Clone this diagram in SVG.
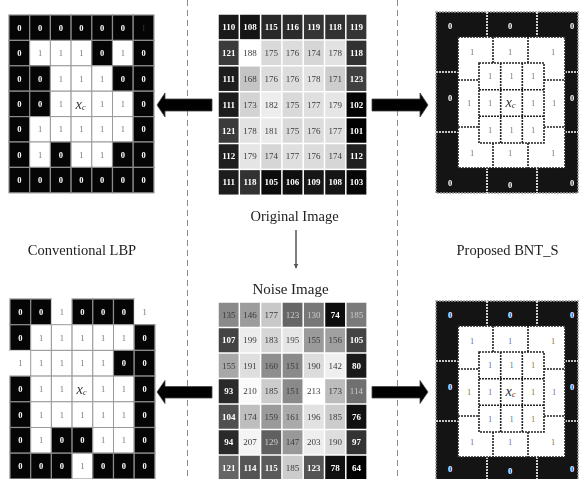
<svg xmlns="http://www.w3.org/2000/svg" width="581" height="479" viewBox="0 0 581 479">
<style>
text{font-family:"Liberation Serif","Times New Roman",serif;text-anchor:middle;dominant-baseline:central}
.lbl{font-size:14.5px;fill:#222;dominant-baseline:alphabetic}
.b{fill:#050505;stroke:#8c8c8c;stroke-width:1.2}
.w{fill:#fff;stroke:#9a9a9a;stroke-width:1}
.z{font-size:8.5px;fill:#fff;font-weight:bold}
.o{font-size:8.5px;fill:#777}
.d{font-size:8.5px;fill:#555}
.n{font-size:9px;fill:#3a3a3a}
.nl{font-size:9px;fill:#fff;font-weight:bold}
.xi{font-style:italic;font-size:14.5px;fill:#333}
.xs{font-style:italic;font-size:8px;fill:#333}
.sep{stroke:#8a8a8a;stroke-width:1;stroke-dasharray:6 4;fill:none}
.wd{stroke:#fff;stroke-width:1.6;stroke-dasharray:2 1;fill:none}
.kd{stroke:#222;stroke-width:1.6;stroke-dasharray:2 1;fill:none}
.arr{fill:#000;stroke:#444;stroke-width:0.8}
</style>
<defs>
<marker id="ah" viewBox="0 0 10 10" refX="9" refY="5" markerWidth="5" markerHeight="6" orient="auto" markerUnits="userSpaceOnUse">
<path d="M0,0 L10,5 L0,10 z" fill="#555"/>
</marker>
</defs>
<g style="opacity:0.999">
<g id="separators">
<line class="sep" x1="187.5" y1="0" x2="187.5" y2="479"/>
<line class="sep" x1="397.5" y1="0" x2="397.5" y2="479"/>
</g>

<!-- Top-left conventional LBP -->
<g id="lbp-top">
<g>
<rect class="b" x="9" y="15" width="20.7" height="25.4"/><rect class="b" x="29.7" y="15" width="20.7" height="25.4"/><rect class="b" x="50.4" y="15" width="20.7" height="25.4"/><rect class="b" x="71.1" y="15" width="20.7" height="25.4"/><rect class="b" x="91.8" y="15" width="20.7" height="25.4"/><rect class="b" x="112.5" y="15" width="20.7" height="25.4"/><rect class="b" x="133.2" y="15" width="20.7" height="25.4"/>
<rect class="b" x="9" y="40.4" width="20.7" height="25.4"/><rect class="w" x="29.7" y="40.4" width="20.7" height="25.4"/><rect class="w" x="50.4" y="40.4" width="20.7" height="25.4"/><rect class="w" x="71.1" y="40.4" width="20.7" height="25.4"/><rect class="b" x="91.8" y="40.4" width="20.7" height="25.4"/><rect class="w" x="112.5" y="40.4" width="20.7" height="25.4"/><rect class="b" x="133.2" y="40.4" width="20.7" height="25.4"/>
<rect class="b" x="9" y="65.8" width="20.7" height="25.4"/><rect class="b" x="29.7" y="65.8" width="20.7" height="25.4"/><rect class="w" x="50.4" y="65.8" width="20.7" height="25.4"/><rect class="w" x="71.1" y="65.8" width="20.7" height="25.4"/><rect class="w" x="91.8" y="65.8" width="20.7" height="25.4"/><rect class="b" x="112.5" y="65.8" width="20.7" height="25.4"/><rect class="b" x="133.2" y="65.8" width="20.7" height="25.4"/>
<rect class="b" x="9" y="91.2" width="20.7" height="25.4"/><rect class="b" x="29.7" y="91.2" width="20.7" height="25.4"/><rect class="w" x="50.4" y="91.2" width="20.7" height="25.4"/><rect class="w" x="71.1" y="91.2" width="20.7" height="25.4"/><rect class="w" x="91.8" y="91.2" width="20.7" height="25.4"/><rect class="w" x="112.5" y="91.2" width="20.7" height="25.4"/><rect class="b" x="133.2" y="91.2" width="20.7" height="25.4"/>
<rect class="b" x="9" y="116.6" width="20.7" height="25.4"/><rect class="w" x="29.7" y="116.6" width="20.7" height="25.4"/><rect class="w" x="50.4" y="116.6" width="20.7" height="25.4"/><rect class="w" x="71.1" y="116.6" width="20.7" height="25.4"/><rect class="w" x="91.8" y="116.6" width="20.7" height="25.4"/><rect class="w" x="112.5" y="116.6" width="20.7" height="25.4"/><rect class="b" x="133.2" y="116.6" width="20.7" height="25.4"/>
<rect class="b" x="9" y="142" width="20.7" height="25.4"/><rect class="w" x="29.7" y="142" width="20.7" height="25.4"/><rect class="b" x="50.4" y="142" width="20.7" height="25.4"/><rect class="w" x="71.1" y="142" width="20.7" height="25.4"/><rect class="w" x="91.8" y="142" width="20.7" height="25.4"/><rect class="b" x="112.5" y="142" width="20.7" height="25.4"/><rect class="b" x="133.2" y="142" width="20.7" height="25.4"/>
<rect class="b" x="9" y="167.4" width="20.7" height="25.4"/><rect class="b" x="29.7" y="167.4" width="20.7" height="25.4"/><rect class="b" x="50.4" y="167.4" width="20.7" height="25.4"/><rect class="b" x="71.1" y="167.4" width="20.7" height="25.4"/><rect class="b" x="91.8" y="167.4" width="20.7" height="25.4"/><rect class="b" x="112.5" y="167.4" width="20.7" height="25.4"/><rect class="b" x="133.2" y="167.4" width="20.7" height="25.4"/>
</g>
<g>
<text class="z" x="19.35" y="27.7">0</text><text class="z" x="40.05" y="27.7">0</text><text class="z" x="60.75" y="27.7">0</text><text class="z" x="81.45" y="27.7">0</text><text class="z" x="102.15" y="27.7">0</text><text class="z" x="122.85" y="27.7">0</text><text class="d" x="143.55" y="27.7" style="fill:#3a3a3a">1</text>
<text class="z" x="19.35" y="53.1">0</text><text class="o" x="40.05" y="53.1">1</text><text class="o" x="60.75" y="53.1">1</text><text class="o" x="81.45" y="53.1">1</text><text class="z" x="102.15" y="53.1">0</text><text class="o" x="122.85" y="53.1">1</text><text class="z" x="143.55" y="53.1">0</text>
<text class="z" x="19.35" y="78.5">0</text><text class="z" x="40.05" y="78.5">0</text><text class="o" x="60.75" y="78.5">1</text><text class="o" x="81.45" y="78.5">1</text><text class="o" x="102.15" y="78.5">1</text><text class="z" x="122.85" y="78.5">0</text><text class="z" x="143.55" y="78.5">0</text>
<text class="z" x="19.35" y="103.9">0</text><text class="z" x="40.05" y="103.9">0</text><text class="o" x="60.75" y="103.9">1</text><text x="80.5" y="103.9"><tspan class="xi">x</tspan><tspan class="xs" dy="3">c</tspan></text><text class="o" x="102.15" y="103.9">1</text><text class="o" x="122.85" y="103.9">1</text><text class="z" x="143.55" y="103.9">0</text>
<text class="z" x="19.35" y="129.3">0</text><text class="o" x="40.05" y="129.3">1</text><text class="o" x="60.75" y="129.3">1</text><text class="o" x="81.45" y="129.3">1</text><text class="o" x="102.15" y="129.3">1</text><text class="o" x="122.85" y="129.3">1</text><text class="z" x="143.55" y="129.3">0</text>
<text class="z" x="19.35" y="154.7">0</text><text class="o" x="40.05" y="154.7">1</text><text class="z" x="60.75" y="154.7">0</text><text class="o" x="81.45" y="154.7">1</text><text class="o" x="102.15" y="154.7">1</text><text class="z" x="122.85" y="154.7">0</text><text class="z" x="143.55" y="154.7">0</text>
<text class="z" x="19.35" y="180.1">0</text><text class="z" x="40.05" y="180.1">0</text><text class="z" x="60.75" y="180.1">0</text><text class="z" x="81.45" y="180.1">0</text><text class="z" x="102.15" y="180.1">0</text><text class="z" x="122.85" y="180.1">0</text><text class="z" x="143.55" y="180.1">0</text>
</g>
</g>

<!-- Bottom-left conventional LBP -->
<g id="lbp-bottom">
<g>
<rect class="b" x="10" y="299" width="20.7" height="25.7"/><rect class="b" x="30.7" y="299" width="20.7" height="25.7"/><rect fill="#fff" x="51.4" y="299" width="20.7" height="25.7"/><rect class="b" x="72.1" y="299" width="20.7" height="25.7"/><rect class="b" x="92.8" y="299" width="20.7" height="25.7"/><rect class="b" x="113.5" y="299" width="20.7" height="25.7"/><rect fill="#fff" x="134.2" y="299" width="20.7" height="25.7"/>
<rect class="b" x="10" y="324.7" width="20.7" height="25.7"/><rect class="w" x="30.7" y="324.7" width="20.7" height="25.7"/><rect class="w" x="51.4" y="324.7" width="20.7" height="25.7"/><rect class="w" x="72.1" y="324.7" width="20.7" height="25.7"/><rect class="w" x="92.8" y="324.7" width="20.7" height="25.7"/><rect class="w" x="113.5" y="324.7" width="20.7" height="25.7"/><rect class="b" x="134.2" y="324.7" width="20.7" height="25.7"/>
<rect fill="#fff" x="10" y="350.4" width="20.7" height="25.7"/><rect class="w" x="30.7" y="350.4" width="20.7" height="25.7"/><rect class="w" x="51.4" y="350.4" width="20.7" height="25.7"/><rect class="w" x="72.1" y="350.4" width="20.7" height="25.7"/><rect class="w" x="92.8" y="350.4" width="20.7" height="25.7"/><rect class="b" x="113.5" y="350.4" width="20.7" height="25.7"/><rect class="b" x="134.2" y="350.4" width="20.7" height="25.7"/>
<rect class="b" x="10" y="376.1" width="20.7" height="25.7"/><rect class="w" x="30.7" y="376.1" width="20.7" height="25.7"/><rect class="w" x="51.4" y="376.1" width="20.7" height="25.7"/><rect class="w" x="72.1" y="376.1" width="20.7" height="25.7"/><rect class="w" x="92.8" y="376.1" width="20.7" height="25.7"/><rect class="w" x="113.5" y="376.1" width="20.7" height="25.7"/><rect class="b" x="134.2" y="376.1" width="20.7" height="25.7"/>
<rect class="b" x="10" y="401.8" width="20.7" height="25.7"/><rect class="w" x="30.7" y="401.8" width="20.7" height="25.7"/><rect class="w" x="51.4" y="401.8" width="20.7" height="25.7"/><rect class="w" x="72.1" y="401.8" width="20.7" height="25.7"/><rect class="w" x="92.8" y="401.8" width="20.7" height="25.7"/><rect class="w" x="113.5" y="401.8" width="20.7" height="25.7"/><rect class="b" x="134.2" y="401.8" width="20.7" height="25.7"/>
<rect class="b" x="10" y="427.5" width="20.7" height="25.7"/><rect class="w" x="30.7" y="427.5" width="20.7" height="25.7"/><rect class="b" x="51.4" y="427.5" width="20.7" height="25.7"/><rect class="b" x="72.1" y="427.5" width="20.7" height="25.7"/><rect class="w" x="92.8" y="427.5" width="20.7" height="25.7"/><rect class="w" x="113.5" y="427.5" width="20.7" height="25.7"/><rect class="b" x="134.2" y="427.5" width="20.7" height="25.7"/>
<rect class="b" x="10" y="453.2" width="20.7" height="25.7"/><rect class="b" x="30.7" y="453.2" width="20.7" height="25.7"/><rect class="b" x="51.4" y="453.2" width="20.7" height="25.7"/><rect class="w" x="72.1" y="453.2" width="20.7" height="25.7"/><rect class="b" x="92.8" y="453.2" width="20.7" height="25.7"/><rect class="b" x="113.5" y="453.2" width="20.7" height="25.7"/><rect class="b" x="134.2" y="453.2" width="20.7" height="25.7"/>
</g>
<g>
<text class="z" x="20.35" y="311.85">0</text><text class="z" x="41.05" y="311.85">0</text><text class="o" x="61.75" y="311.85">1</text><text class="z" x="82.45" y="311.85">0</text><text class="z" x="103.15" y="311.85">0</text><text class="z" x="123.85" y="311.85">0</text><text class="o" x="144.55" y="311.85">1</text>
<text class="z" x="20.35" y="337.55">0</text><text class="o" x="41.05" y="337.55">1</text><text class="o" x="61.75" y="337.55">1</text><text class="o" x="82.45" y="337.55">1</text><text class="o" x="103.15" y="337.55">1</text><text class="o" x="123.85" y="337.55">1</text><text class="z" x="144.55" y="337.55">0</text>
<text class="o" x="20.35" y="363.25">1</text><text class="o" x="41.05" y="363.25">1</text><text class="o" x="61.75" y="363.25">1</text><text class="o" x="82.45" y="363.25">1</text><text class="o" x="103.15" y="363.25">1</text><text class="z" x="123.85" y="363.25">0</text><text class="z" x="144.55" y="363.25">0</text>
<text class="z" x="20.35" y="388.95">0</text><text class="o" x="41.05" y="388.95">1</text><text class="o" x="61.75" y="388.95">1</text><text x="81.5" y="388.95"><tspan class="xi">x</tspan><tspan class="xs" dy="3">c</tspan></text><text class="o" x="103.15" y="388.95">1</text><text class="o" x="123.85" y="388.95">1</text><text class="z" x="144.55" y="388.95">0</text>
<text class="z" x="20.35" y="414.65">0</text><text class="o" x="41.05" y="414.65">1</text><text class="o" x="61.75" y="414.65">1</text><text class="o" x="82.45" y="414.65">1</text><text class="o" x="103.15" y="414.65">1</text><text class="o" x="123.85" y="414.65">1</text><text class="z" x="144.55" y="414.65">0</text>
<text class="z" x="20.35" y="440.35">0</text><text class="o" x="41.05" y="440.35">1</text><text class="z" x="61.75" y="440.35">0</text><text class="z" x="82.45" y="440.35">0</text><text class="o" x="103.15" y="440.35">1</text><text class="o" x="123.85" y="440.35">1</text><text class="z" x="144.55" y="440.35">0</text>
<text class="z" x="20.35" y="466.05">0</text><text class="z" x="41.05" y="466.05">0</text><text class="z" x="61.75" y="466.05">0</text><text class="o" x="82.45" y="466.05">1</text><text class="z" x="103.15" y="466.05">0</text><text class="z" x="123.85" y="466.05">0</text><text class="z" x="144.55" y="466.05">0</text>
</g>
</g>

<!-- Original image -->
<g id="original-image">
<g>
<rect x="218.75" y="14.75" width="19.8" height="24.4" fill="#1a1a1a"/><rect x="240.05" y="14.75" width="19.8" height="24.4" fill="#151515"/><rect x="261.35" y="14.75" width="19.8" height="24.4" fill="#292929"/><rect x="282.65" y="14.75" width="19.8" height="24.4" fill="#2c2c2c"/><rect x="303.95" y="14.75" width="19.8" height="24.4" fill="#353535"/><rect x="325.25" y="14.75" width="19.8" height="24.4" fill="#323232"/><rect x="346.55" y="14.75" width="19.8" height="24.4" fill="#353535"/>
<rect x="218.75" y="40.65" width="19.8" height="24.4" fill="#3b3b3b"/><rect x="240.05" y="40.65" width="19.8" height="24.4" fill="#ffffff"/><rect x="261.35" y="40.65" width="19.8" height="24.4" fill="#d9d9d9"/><rect x="282.65" y="40.65" width="19.8" height="24.4" fill="#dcdcdc"/><rect x="303.95" y="40.65" width="19.8" height="24.4" fill="#d6d6d6"/><rect x="325.25" y="40.65" width="19.8" height="24.4" fill="#e2e2e2"/><rect x="346.55" y="40.65" width="19.8" height="24.4" fill="#323232"/>
<rect x="218.75" y="66.55" width="19.8" height="24.4" fill="#1d1d1d"/><rect x="240.05" y="66.55" width="19.8" height="24.4" fill="#c4c4c4"/><rect x="261.35" y="66.55" width="19.8" height="24.4" fill="#dcdcdc"/><rect x="282.65" y="66.55" width="19.8" height="24.4" fill="#dcdcdc"/><rect x="303.95" y="66.55" width="19.8" height="24.4" fill="#e2e2e2"/><rect x="325.25" y="66.55" width="19.8" height="24.4" fill="#cdcdcd"/><rect x="346.55" y="66.55" width="19.8" height="24.4" fill="#404040"/>
<rect x="218.75" y="92.45" width="19.8" height="24.4" fill="#1d1d1d"/><rect x="240.05" y="92.45" width="19.8" height="24.4" fill="#d3d3d3"/><rect x="261.35" y="92.45" width="19.8" height="24.4" fill="#ededed"/><rect x="282.65" y="92.45" width="19.8" height="24.4" fill="#d9d9d9"/><rect x="303.95" y="92.45" width="19.8" height="24.4" fill="#dfdfdf"/><rect x="325.25" y="92.45" width="19.8" height="24.4" fill="#e5e5e5"/><rect x="346.55" y="92.45" width="19.8" height="24.4" fill="#030303"/>
<rect x="218.75" y="118.35" width="19.8" height="24.4" fill="#3b3b3b"/><rect x="240.05" y="118.35" width="19.8" height="24.4" fill="#e2e2e2"/><rect x="261.35" y="118.35" width="19.8" height="24.4" fill="#eaeaea"/><rect x="282.65" y="118.35" width="19.8" height="24.4" fill="#d9d9d9"/><rect x="303.95" y="118.35" width="19.8" height="24.4" fill="#dcdcdc"/><rect x="325.25" y="118.35" width="19.8" height="24.4" fill="#dfdfdf"/><rect x="346.55" y="118.35" width="19.8" height="24.4" fill="#000000"/>
<rect x="218.75" y="144.25" width="19.8" height="24.4" fill="#202020"/><rect x="240.05" y="144.25" width="19.8" height="24.4" fill="#e5e5e5"/><rect x="261.35" y="144.25" width="19.8" height="24.4" fill="#d6d6d6"/><rect x="282.65" y="144.25" width="19.8" height="24.4" fill="#dfdfdf"/><rect x="303.95" y="144.25" width="19.8" height="24.4" fill="#dcdcdc"/><rect x="325.25" y="144.25" width="19.8" height="24.4" fill="#d6d6d6"/><rect x="346.55" y="144.25" width="19.8" height="24.4" fill="#202020"/>
<rect x="218.75" y="170.15" width="19.8" height="24.4" fill="#1d1d1d"/><rect x="240.05" y="170.15" width="19.8" height="24.4" fill="#323232"/><rect x="261.35" y="170.15" width="19.8" height="24.4" fill="#0c0c0c"/><rect x="282.65" y="170.15" width="19.8" height="24.4" fill="#0f0f0f"/><rect x="303.95" y="170.15" width="19.8" height="24.4" fill="#171717"/><rect x="325.25" y="170.15" width="19.8" height="24.4" fill="#151515"/><rect x="346.55" y="170.15" width="19.8" height="24.4" fill="#060606"/>
</g>
<g>
<text class="nl" x="228.65" y="26.95">110</text><text class="nl" x="249.95" y="26.95">108</text><text class="nl" x="271.25" y="26.95">115</text><text class="nl" x="292.55" y="26.95">116</text><text class="nl" x="313.85" y="26.95">119</text><text class="nl" x="335.15" y="26.95">118</text><text class="nl" x="356.45" y="26.95">119</text>
<text class="nl" x="228.65" y="52.85">121</text><text class="n" x="249.95" y="52.85">188</text><text class="n" x="271.25" y="52.85">175</text><text class="n" x="292.55" y="52.85">176</text><text class="n" x="313.85" y="52.85">174</text><text class="n" x="335.15" y="52.85">178</text><text class="nl" x="356.45" y="52.85">118</text>
<text class="nl" x="228.65" y="78.75">111</text><text class="n" x="249.95" y="78.75">168</text><text class="n" x="271.25" y="78.75">176</text><text class="n" x="292.55" y="78.75">176</text><text class="n" x="313.85" y="78.75">178</text><text class="n" x="335.15" y="78.75">171</text><text class="nl" x="356.45" y="78.75">123</text>
<text class="nl" x="228.65" y="104.65">111</text><text class="n" x="249.95" y="104.65">173</text><text class="n" x="271.25" y="104.65">182</text><text class="n" x="292.55" y="104.65">175</text><text class="n" x="313.85" y="104.65">177</text><text class="n" x="335.15" y="104.65">179</text><text class="nl" x="356.45" y="104.65">102</text>
<text class="nl" x="228.65" y="130.55">121</text><text class="n" x="249.95" y="130.55">178</text><text class="n" x="271.25" y="130.55">181</text><text class="n" x="292.55" y="130.55">175</text><text class="n" x="313.85" y="130.55">176</text><text class="n" x="335.15" y="130.55">177</text><text class="nl" x="356.45" y="130.55">101</text>
<text class="nl" x="228.65" y="156.45">112</text><text class="n" x="249.95" y="156.45">179</text><text class="n" x="271.25" y="156.45">174</text><text class="n" x="292.55" y="156.45">177</text><text class="n" x="313.85" y="156.45">176</text><text class="n" x="335.15" y="156.45">174</text><text class="nl" x="356.45" y="156.45">112</text>
<text class="nl" x="228.65" y="182.35">111</text><text class="nl" x="249.95" y="182.35">118</text><text class="nl" x="271.25" y="182.35">105</text><text class="nl" x="292.55" y="182.35">106</text><text class="nl" x="313.85" y="182.35">109</text><text class="nl" x="335.15" y="182.35">108</text><text class="nl" x="356.45" y="182.35">103</text>
</g>
</g>

<!-- Noise image -->
<g id="noise-image">
<g>
<rect x="218.75" y="302.75" width="19.8" height="24" fill="#8a8a8a"/><rect x="240.05" y="302.75" width="19.8" height="24" fill="#9c9c9c"/><rect x="261.35" y="302.75" width="19.8" height="24" fill="#c8c8c8"/><rect x="282.65" y="302.75" width="19.8" height="24" fill="#666666"/><rect x="303.95" y="302.75" width="19.8" height="24" fill="#777777"/><rect x="325.25" y="302.75" width="19.8" height="24" fill="#0d0d0d"/><rect x="346.55" y="302.75" width="19.8" height="24" fill="#7a7a7a"/>
<rect x="218.75" y="328.25" width="19.8" height="24" fill="#444444"/><rect x="240.05" y="328.25" width="19.8" height="24" fill="#ececec"/><rect x="261.35" y="328.25" width="19.8" height="24" fill="#d6d6d6"/><rect x="282.65" y="328.25" width="19.8" height="24" fill="#e6e6e6"/><rect x="303.95" y="328.25" width="19.8" height="24" fill="#9a9a9a"/><rect x="325.25" y="328.25" width="19.8" height="24" fill="#a0a0a0"/><rect x="346.55" y="328.25" width="19.8" height="24" fill="#444444"/>
<rect x="218.75" y="353.75" width="19.8" height="24" fill="#a8a8a8"/><rect x="240.05" y="353.75" width="19.8" height="24" fill="#dedede"/><rect x="261.35" y="353.75" width="19.8" height="24" fill="#8e8e8e"/><rect x="282.65" y="353.75" width="19.8" height="24" fill="#8a8a8a"/><rect x="303.95" y="353.75" width="19.8" height="24" fill="#dcdcdc"/><rect x="325.25" y="353.75" width="19.8" height="24" fill="#efefef"/><rect x="346.55" y="353.75" width="19.8" height="24" fill="#1a1a1a"/>
<rect x="218.75" y="379.25" width="19.8" height="24" fill="#2a2a2a"/><rect x="240.05" y="379.25" width="19.8" height="24" fill="#fafafa"/><rect x="261.35" y="379.25" width="19.8" height="24" fill="#cccccc"/><rect x="282.65" y="379.25" width="19.8" height="24" fill="#8a8a8a"/><rect x="303.95" y="379.25" width="19.8" height="24" fill="#ffffff"/><rect x="325.25" y="379.25" width="19.8" height="24" fill="#bcbcbc"/><rect x="346.55" y="379.25" width="19.8" height="24" fill="#707070"/>
<rect x="218.75" y="404.75" width="19.8" height="24" fill="#505050"/><rect x="240.05" y="404.75" width="19.8" height="24" fill="#bebebe"/><rect x="261.35" y="404.75" width="19.8" height="24" fill="#9a9a9a"/><rect x="282.65" y="404.75" width="19.8" height="24" fill="#aaaaaa"/><rect x="303.95" y="404.75" width="19.8" height="24" fill="#e2e2e2"/><rect x="325.25" y="404.75" width="19.8" height="24" fill="#cccccc"/><rect x="346.55" y="404.75" width="19.8" height="24" fill="#111111"/>
<rect x="218.75" y="430.25" width="19.8" height="24" fill="#2a2a2a"/><rect x="240.05" y="430.25" width="19.8" height="24" fill="#f4f4f4"/><rect x="261.35" y="430.25" width="19.8" height="24" fill="#606060"/><rect x="282.65" y="430.25" width="19.8" height="24" fill="#999999"/><rect x="303.95" y="430.25" width="19.8" height="24" fill="#eeeeee"/><rect x="325.25" y="430.25" width="19.8" height="24" fill="#dddddd"/><rect x="346.55" y="430.25" width="19.8" height="24" fill="#333333"/>
<rect x="218.75" y="455.75" width="19.8" height="24" fill="#666666"/><rect x="240.05" y="455.75" width="19.8" height="24" fill="#555555"/><rect x="261.35" y="455.75" width="19.8" height="24" fill="#5a5a5a"/><rect x="282.65" y="455.75" width="19.8" height="24" fill="#cccccc"/><rect x="303.95" y="455.75" width="19.8" height="24" fill="#555555"/><rect x="325.25" y="455.75" width="19.8" height="24" fill="#111111"/><rect x="346.55" y="455.75" width="19.8" height="24" fill="#000000"/>
</g>
<g>
<text class="n" x="228.65" y="314.75">135</text><text class="n" x="249.95" y="314.75">146</text><text class="n" x="271.25" y="314.75">177</text><text class="n" x="292.55" y="314.75" style="fill:#ccc">123</text><text class="n" x="313.85" y="314.75" style="fill:#ccc">130</text><text class="nl" x="335.15" y="314.75">74</text><text class="n" x="356.45" y="314.75" style="fill:#ccc">185</text>
<text class="nl" x="228.65" y="340.25">107</text><text class="n" x="249.95" y="340.25">199</text><text class="n" x="271.25" y="340.25">183</text><text class="n" x="292.55" y="340.25">195</text><text class="n" x="313.85" y="340.25">155</text><text class="n" x="335.15" y="340.25">156</text><text class="nl" x="356.45" y="340.25">105</text>
<text class="n" x="228.65" y="365.75">155</text><text class="n" x="249.95" y="365.75">191</text><text class="n" x="271.25" y="365.75">160</text><text class="n" x="292.55" y="365.75">151</text><text class="n" x="313.85" y="365.75">190</text><text class="n" x="335.15" y="365.75">142</text><text class="nl" x="356.45" y="365.75">80</text>
<text class="nl" x="228.65" y="391.25">93</text><text class="n" x="249.95" y="391.25">210</text><text class="n" x="271.25" y="391.25">185</text><text class="n" x="292.55" y="391.25">151</text><text class="n" x="313.85" y="391.25">213</text><text class="n" x="335.15" y="391.25">173</text><text class="n" x="356.45" y="391.25" style="fill:#ccc">114</text>
<text class="nl" x="228.65" y="416.75">104</text><text class="n" x="249.95" y="416.75">174</text><text class="n" x="271.25" y="416.75">159</text><text class="n" x="292.55" y="416.75">161</text><text class="n" x="313.85" y="416.75">196</text><text class="n" x="335.15" y="416.75">185</text><text class="nl" x="356.45" y="416.75">76</text>
<text class="nl" x="228.65" y="442.25">94</text><text class="n" x="249.95" y="442.25">207</text><text class="n" x="271.25" y="442.25" style="fill:#ccc">129</text><text class="n" x="292.55" y="442.25">147</text><text class="n" x="313.85" y="442.25">203</text><text class="n" x="335.15" y="442.25">190</text><text class="nl" x="356.45" y="442.25">97</text>
<text class="nl" x="228.65" y="467.75">121</text><text class="nl" x="249.95" y="467.75">114</text><text class="nl" x="271.25" y="467.75">115</text><text class="n" x="292.55" y="467.75">185</text><text class="nl" x="313.85" y="467.75">123</text><text class="nl" x="335.15" y="467.75">78</text><text class="nl" x="356.45" y="467.75">64</text>
</g>
</g>

<!-- Proposed BNT_S top -->
<g id="bnt-top">
<rect x="436" y="12" width="142" height="181" fill="#141414" stroke="#999" stroke-width="1.4" stroke-dasharray="2 1"/>
<path class="wd" d="M487 12V37M537 12V37M487 168V193M537 168V193M436 72H458M436 132H458M565 72H578M565 132H578"/>
<rect x="458" y="37" width="107" height="131" class="kd" style="fill:#fff"/>
<path class="kd" d="M493 37V63M528 37V63M493 143V168M528 143V168M458 80H479M458 127H479M544 80H565M544 127H565"/>
<rect x="479" y="63" width="65" height="80" class="kd"/>
<path class="kd" d="M500.7 63V143M522.3 63V143M479 89.7H544M479 116.3H544"/>
<text class="z" x="450" y="26">0</text><text class="z" x="510" y="26">0</text><text class="z" x="572" y="26">0</text>
<text class="z" x="450" y="98">0</text><text class="z" x="572" y="98">0</text>
<text class="z" x="450" y="183">0</text><text class="z" x="510" y="185">0</text><text class="z" x="572" y="183">0</text>
<text class="o" x="472" y="52">1</text><text class="o" x="510" y="52">1</text><text class="o" x="553" y="52">1</text>
<text class="o" x="469" y="103">1</text><text class="o" x="554" y="103">1</text>
<text class="o" x="472" y="153">1</text><text class="o" x="510" y="153">1</text><text class="o" x="553" y="153">1</text>
<text class="o" x="490" y="76">1</text><text class="o" x="511.5" y="76">1</text><text class="o" x="533" y="76">1</text>
<text class="o" x="490" y="103">1</text><text x="510.5" y="102"><tspan class="xi">x</tspan><tspan class="xs" dy="3">c</tspan></text><text class="o" x="533" y="103">1</text>
<text class="o" x="490" y="130">1</text><text class="o" x="511.5" y="130">1</text><text class="o" x="533" y="130">1</text>
</g>

<!-- Proposed BNT_S bottom -->
<g id="bnt-bottom" transform="translate(0,289)">
<rect x="436" y="12" width="142" height="181" fill="#141414" stroke="#999" stroke-width="1.4" stroke-dasharray="2 1"/>
<path class="wd" d="M487 12V37M537 12V37M487 168V193M537 168V193M436 72H458M436 132H458M565 72H578M565 132H578"/>
<rect x="458" y="37" width="107" height="131" class="kd" style="fill:#fff"/>
<path class="kd" d="M493 37V63M528 37V63M493 143V168M528 143V168M458 80H479M458 127H479M544 80H565M544 127H565"/>
<rect x="479" y="63" width="65" height="80" class="kd"/>
<path class="kd" d="M500.7 63V143M522.3 63V143M479 89.7H544M479 116.3H544"/>
<text class="z" x="450" y="26">0</text><text class="z" x="510" y="26">0</text><text class="z" x="572" y="26">0</text>
<text class="z" x="450" y="98">0</text><text class="z" x="572" y="98">0</text>
<text class="z" x="450" y="180">0</text><text class="z" x="510" y="182">0</text><text class="z" x="572" y="180">0</text>
<text class="o" x="472" y="52">1</text><text class="o" x="510" y="52">1</text><text class="o" x="553" y="52">1</text>
<text class="o" x="469" y="103">1</text><text class="o" x="554" y="103">1</text>
<text class="o" x="472" y="153">1</text><text class="o" x="510" y="153">1</text><text class="o" x="553" y="153">1</text>
<text class="o" x="490" y="76">1</text><text class="o" x="511.5" y="76">1</text><text class="o" x="533" y="76">1</text>
<text class="o" x="490" y="103">1</text><text x="510.5" y="102"><tspan class="xi">x</tspan><tspan class="xs" dy="3">c</tspan></text><text class="o" x="533" y="103">1</text>
<text class="o" x="490" y="130">1</text><text class="o" x="511.5" y="130">1</text><text class="o" x="533" y="130">1</text>
</g>

<g id="labels">
<text class="lbl" x="294.5" y="220.5">Original Image</text>
<text class="lbl" x="290.5" y="293.5" style="font-size:15px">Noise Image</text>
<text class="lbl" x="82" y="254.5">Conventional LBP</text>
<text class="lbl" x="507.5" y="254.5">Proposed BNT_S</text>
</g>

<g id="connectors">
<line x1="296" y1="230" x2="296" y2="268" stroke="#555" stroke-width="1.5" marker-end="url(#ah)"/>
<polygon class="arr" points="157,105 165,93 165,99 212,99 212,111 165,111 165,117"/>
<polygon class="arr" points="428,105 420,93 420,99 372,99 372,111 420,111 420,117"/>
<polygon class="arr" points="157,392 165,380.5 165,386.5 212,386.5 212,398 165,398 165,403.5"/>
<polygon class="arr" points="428,392 420,380.5 420,386.5 372,386.5 372,398 420,398 420,403.5"/>
</g>
</g>
</svg>
